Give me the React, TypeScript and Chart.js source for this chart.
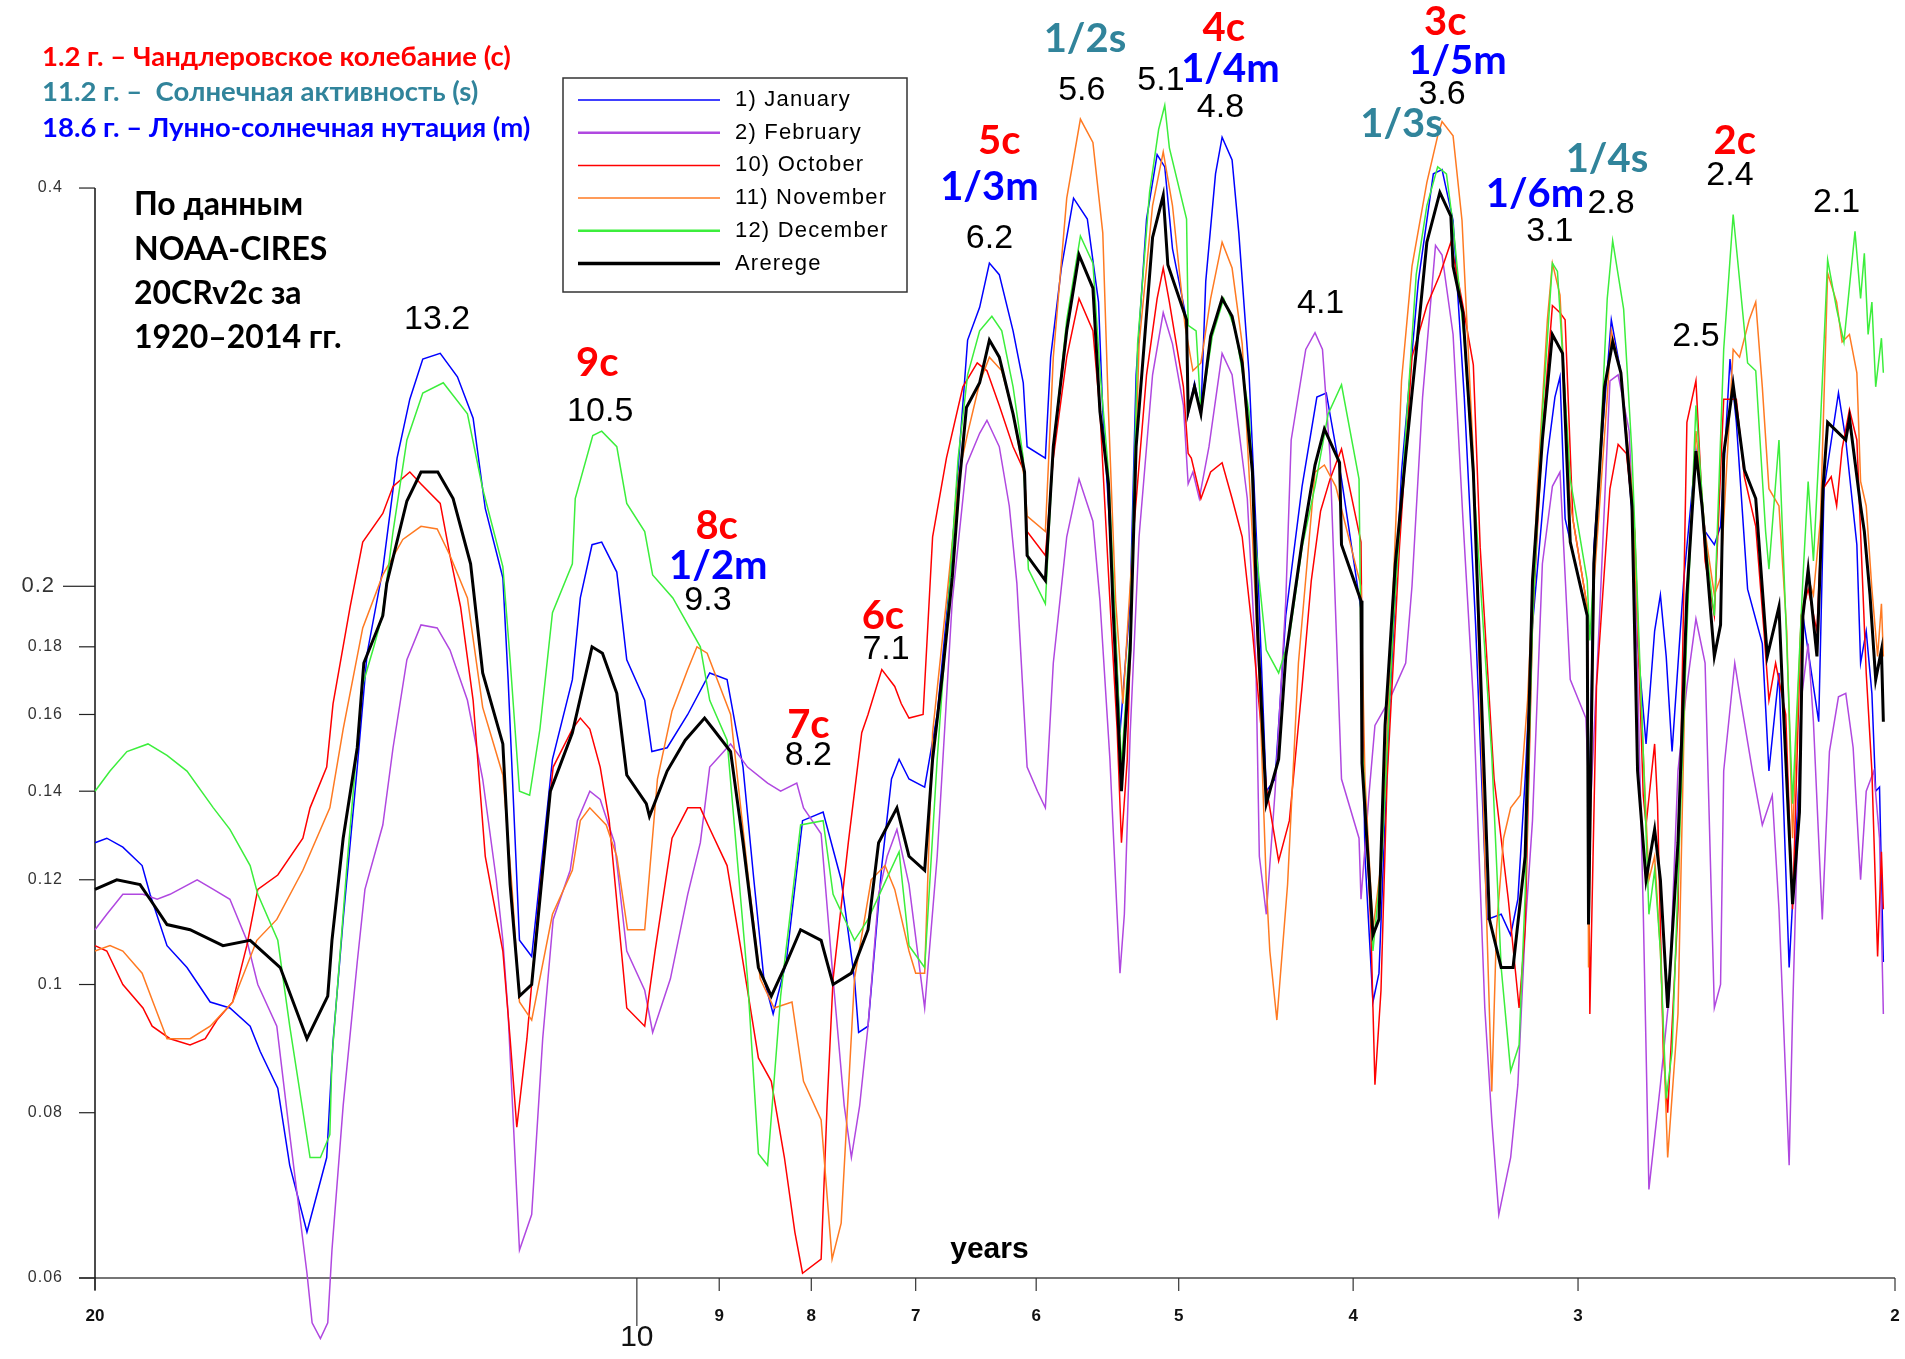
import { useEffect, useRef } from 'react';
import { Chart, registerables } from 'chart.js';

Chart.register(...registerables);

// ---- data: [period (years), amplitude] ----
const janSeries: [number, number][] = [[20.00,0.128],[19.70,0.129],[19.30,0.127],[18.83,0.123],[18.64,0.117],[18.24,0.107],[17.78,0.103],[17.26,0.097],[16.83,0.096],[16.40,0.093],[16.19,0.089],[15.83,0.0835],[15.59,0.073],[15.25,0.065],[14.87,0.074],[14.75,0.0905],[14.56,0.112],[14.30,0.146],[14.12,0.178],[13.84,0.206],[13.59,0.250],[13.37,0.277],[13.15,0.297],[12.86,0.300],[12.58,0.288],[12.33,0.268],[12.14,0.229],[11.87,0.203],[11.79,0.170],[11.62,0.108],[11.44,0.105],[11.14,0.148],[10.86,0.170],[10.75,0.196],[10.59,0.215],[10.46,0.216],[10.26,0.205],[10.13,0.176],[9.90,0.164],[9.81,0.150],[9.62,0.151],[9.37,0.160],[9.11,0.172],[8.91,0.170],[8.73,0.146],[8.61,0.120],[8.50,0.101],[8.40,0.095],[8.26,0.104],[8.09,0.133],[7.88,0.135],[7.70,0.120],[7.57,0.101],[7.53,0.092],[7.44,0.093],[7.31,0.123],[7.22,0.143],[7.15,0.148],[7.06,0.143],[6.92,0.141],[6.81,0.160],[6.70,0.202],[6.64,0.239],[6.55,0.307],[6.45,0.325],[6.37,0.351],[6.29,0.344],[6.18,0.312],[6.10,0.285],[6.07,0.255],[5.93,0.250],[5.89,0.298],[5.81,0.348],[5.72,0.393],[5.62,0.379],[5.54,0.328],[5.51,0.271],[5.44,0.203],[5.39,0.155],[5.32,0.195],[5.28,0.289],[5.21,0.379],[5.14,0.424],[5.09,0.415],[5.04,0.360],[4.95,0.318],[4.94,0.270],[4.90,0.285],[4.86,0.270],[4.83,0.340],[4.77,0.410],[4.73,0.437],[4.67,0.420],[4.63,0.370],[4.57,0.290],[4.52,0.208],[4.47,0.140],[4.42,0.143],[4.36,0.190],[4.27,0.238],[4.19,0.278],[4.14,0.280],[4.06,0.241],[3.96,0.192],[3.94,0.125],[3.90,0.097],[3.87,0.102],[3.82,0.159],[3.76,0.244],[3.68,0.340],[3.61,0.410],[3.57,0.413],[3.52,0.378],[3.47,0.278],[3.42,0.187],[3.37,0.112],[3.31,0.113],[3.27,0.109],[3.24,0.116],[3.21,0.143],[3.18,0.187],[3.12,0.251],[3.09,0.278],[3.07,0.288],[3.05,0.225],[2.965,0.190],[2.96,0.125],[2.94,0.214],[2.905,0.266],[2.875,0.318],[2.84,0.290],[2.80,0.227],[2.78,0.181],[2.75,0.152],[2.72,0.185],[2.70,0.197],[2.68,0.177],[2.66,0.150],[2.62,0.203],[2.58,0.253],[2.55,0.220],[2.52,0.215],[2.50,0.222],[2.47,0.297],[2.45,0.266],[2.415,0.199],[2.37,0.181],[2.35,0.145],[2.32,0.172],[2.29,0.103],[2.26,0.145],[2.25,0.190],[2.205,0.158],[2.19,0.237],[2.15,0.280],[2.13,0.258],[2.10,0.215],[2.09,0.175],[2.075,0.185],[2.06,0.166],[2.05,0.140],[2.04,0.141],[2.03,0.104]];

const febSeries: [number, number][] = [[20.00,0.110],[19.70,0.113],[19.30,0.117],[18.81,0.117],[18.47,0.116],[18.17,0.117],[17.55,0.120],[17.19,0.118],[16.83,0.116],[16.47,0.108],[16.24,0.100],[15.85,0.093],[15.59,0.077],[15.25,0.0605],[15.15,0.0555],[14.99,0.054],[14.85,0.0555],[14.77,0.063],[14.56,0.081],[14.30,0.104],[14.16,0.118],[13.84,0.132],[13.66,0.151],[13.42,0.176],[13.18,0.187],[12.91,0.186],[12.70,0.179],[12.42,0.164],[12.18,0.143],[11.97,0.120],[11.87,0.108],[11.79,0.095],[11.62,0.063],[11.44,0.067],[11.28,0.091],[11.13,0.112],[10.89,0.122],[10.79,0.133],[10.62,0.140],[10.48,0.138],[10.29,0.128],[10.13,0.106],[9.90,0.099],[9.80,0.092],[9.58,0.101],[9.37,0.117],[9.22,0.128],[9.11,0.146],[8.87,0.152],[8.68,0.146],[8.46,0.142],[8.32,0.140],[8.15,0.142],[8.08,0.136],[7.90,0.130],[7.78,0.101],[7.67,0.081],[7.60,0.074],[7.52,0.081],[7.44,0.093],[7.34,0.117],[7.26,0.125],[7.17,0.131],[7.06,0.119],[6.92,0.096],[6.81,0.125],[6.68,0.195],[6.56,0.247],[6.45,0.261],[6.39,0.267],[6.29,0.255],[6.21,0.230],[6.15,0.201],[6.07,0.146],[5.99,0.140],[5.93,0.136],[5.87,0.175],[5.77,0.218],[5.68,0.241],[5.58,0.224],[5.53,0.195],[5.46,0.148],[5.41,0.113],[5.39,0.102],[5.36,0.113],[5.32,0.155],[5.26,0.218],[5.17,0.289],[5.10,0.322],[5.04,0.305],[4.97,0.274],[4.94,0.239],[4.91,0.244],[4.87,0.233],[4.81,0.255],[4.73,0.300],[4.67,0.289],[4.58,0.233],[4.53,0.175],[4.51,0.125],[4.47,0.113],[4.42,0.140],[4.36,0.195],[4.33,0.258],[4.25,0.302],[4.20,0.311],[4.16,0.302],[4.12,0.251],[4.06,0.143],[3.97,0.129],[3.96,0.116],[3.92,0.139],[3.89,0.157],[3.82,0.164],[3.74,0.175],[3.71,0.200],[3.66,0.278],[3.60,0.362],[3.57,0.356],[3.52,0.310],[3.476,0.225],[3.43,0.164],[3.38,0.096],[3.35,0.079],[3.32,0.067],[3.27,0.074],[3.24,0.084],[3.21,0.110],[3.18,0.133],[3.14,0.208],[3.10,0.238],[3.07,0.244],[3.03,0.170],[2.97,0.159],[2.955,0.133],[2.92,0.187],[2.88,0.286],[2.85,0.289],[2.81,0.262],[2.79,0.209],[2.76,0.114],[2.74,0.070],[2.70,0.084],[2.67,0.098],[2.64,0.145],[2.61,0.168],[2.58,0.189],[2.55,0.175],[2.52,0.096],[2.50,0.100],[2.49,0.145],[2.455,0.175],[2.44,0.166],[2.40,0.145],[2.37,0.132],[2.34,0.139],[2.32,0.114],[2.29,0.073],[2.28,0.095],[2.255,0.164],[2.235,0.181],[2.22,0.158],[2.195,0.112],[2.175,0.150],[2.15,0.165],[2.13,0.166],[2.11,0.151],[2.09,0.120],[2.075,0.140],[2.055,0.145],[2.04,0.129],[2.03,0.095]];

const octSeries: [number, number][] = [[20.00,0.107],[19.70,0.106],[19.30,0.100],[18.81,0.096],[18.59,0.093],[18.17,0.091],[17.71,0.090],[17.37,0.091],[17.11,0.094],[16.77,0.097],[16.47,0.107],[16.24,0.118],[15.83,0.121],[15.33,0.129],[15.19,0.136],[14.87,0.146],[14.75,0.163],[14.43,0.193],[14.20,0.216],[13.84,0.227],[13.66,0.238],[13.37,0.244],[13.18,0.239],[12.86,0.231],[12.70,0.211],[12.53,0.193],[12.33,0.164],[12.14,0.125],[11.87,0.106],[11.76,0.091],[11.66,0.078],[11.51,0.091],[11.32,0.118],[11.13,0.146],[10.86,0.156],[10.75,0.159],[10.62,0.156],[10.48,0.146],[10.36,0.133],[10.13,0.096],[9.90,0.093],[9.77,0.106],[9.56,0.129],[9.37,0.136],[9.22,0.136],[9.13,0.132],[8.91,0.123],[8.75,0.106],[8.56,0.088],[8.42,0.0845],[8.28,0.074],[8.17,0.065],[8.09,0.0605],[7.90,0.062],[7.84,0.081],[7.78,0.101],[7.63,0.128],[7.50,0.155],[7.44,0.160],[7.31,0.173],[7.19,0.168],[7.13,0.163],[7.06,0.159],[6.934,0.160],[6.85,0.218],[6.73,0.250],[6.59,0.283],[6.47,0.295],[6.39,0.291],[6.29,0.274],[6.18,0.255],[6.09,0.244],[6.07,0.220],[5.93,0.211],[5.87,0.250],[5.77,0.298],[5.68,0.330],[5.58,0.312],[5.53,0.271],[5.46,0.195],[5.41,0.156],[5.38,0.128],[5.34,0.148],[5.30,0.218],[5.21,0.289],[5.14,0.330],[5.10,0.348],[5.06,0.328],[4.97,0.283],[4.94,0.252],[4.92,0.250],[4.86,0.233],[4.80,0.244],[4.73,0.248],[4.67,0.233],[4.61,0.218],[4.55,0.185],[4.51,0.162],[4.47,0.141],[4.40,0.124],[4.34,0.133],[4.27,0.168],[4.22,0.202],[4.17,0.228],[4.12,0.241],[4.06,0.254],[3.96,0.216],[3.95,0.149],[3.91,0.110],[3.89,0.084],[3.86,0.099],[3.83,0.143],[3.77,0.214],[3.71,0.298],[3.64,0.326],[3.58,0.344],[3.53,0.364],[3.476,0.326],[3.43,0.294],[3.40,0.214],[3.34,0.143],[3.28,0.116],[3.235,0.096],[3.21,0.110],[3.18,0.187],[3.14,0.261],[3.10,0.326],[3.07,0.322],[3.05,0.318],[3.02,0.225],[2.965,0.193],[2.955,0.095],[2.93,0.168],[2.88,0.237],[2.85,0.256],[2.82,0.252],[2.79,0.220],[2.76,0.139],[2.75,0.132],[2.72,0.152],[2.71,0.137],[2.69,0.089],[2.675,0.080],[2.64,0.114],[2.61,0.266],[2.58,0.286],[2.55,0.209],[2.52,0.190],[2.49,0.277],[2.45,0.277],[2.425,0.242],[2.39,0.222],[2.365,0.185],[2.35,0.164],[2.33,0.175],[2.30,0.160],[2.28,0.114],[2.255,0.190],[2.235,0.199],[2.21,0.185],[2.193,0.237],[2.17,0.242],[2.155,0.230],[2.14,0.254],[2.12,0.272],[2.10,0.258],[2.075,0.172],[2.06,0.145],[2.045,0.105],[2.035,0.126],[2.03,0.114]];

const novSeries: [number, number][] = [[20.00,0.106],[19.62,0.107],[19.30,0.106],[18.83,0.102],[18.57,0.097],[18.24,0.091],[17.71,0.091],[17.26,0.093],[16.77,0.097],[16.26,0.108],[15.85,0.112],[15.33,0.122],[14.81,0.136],[14.56,0.156],[14.20,0.186],[13.84,0.204],[13.49,0.217],[13.18,0.222],[12.91,0.221],[12.70,0.211],[12.42,0.196],[12.18,0.162],[11.87,0.144],[11.73,0.118],[11.62,0.097],[11.44,0.094],[11.14,0.113],[10.86,0.122],[10.75,0.133],[10.62,0.136],[10.40,0.132],[10.26,0.125],[10.12,0.110],[9.90,0.110],[9.74,0.143],[9.56,0.161],[9.37,0.173],[9.26,0.180],[9.14,0.178],[8.87,0.160],[8.68,0.122],[8.54,0.101],[8.39,0.096],[8.20,0.097],[8.08,0.0845],[7.90,0.079],[7.79,0.062],[7.70,0.066],[7.57,0.101],[7.41,0.120],[7.28,0.123],[7.19,0.118],[7.06,0.106],[7.00,0.102],[6.92,0.102],[6.85,0.155],[6.73,0.195],[6.62,0.244],[6.55,0.261],[6.45,0.285],[6.37,0.298],[6.27,0.291],[6.18,0.270],[6.09,0.241],[6.07,0.226],[5.93,0.220],[5.87,0.298],[5.77,0.393],[5.67,0.451],[5.58,0.433],[5.51,0.370],[5.47,0.271],[5.42,0.195],[5.37,0.163],[5.30,0.218],[5.26,0.305],[5.17,0.388],[5.10,0.426],[5.04,0.388],[4.96,0.315],[4.91,0.291],[4.86,0.295],[4.80,0.330],[4.73,0.364],[4.67,0.348],[4.61,0.305],[4.55,0.218],[4.51,0.169],[4.47,0.119],[4.45,0.106],[4.41,0.094],[4.35,0.119],[4.29,0.175],[4.20,0.244],[4.15,0.247],[4.09,0.238],[3.96,0.200],[3.94,0.143],[3.90,0.110],[3.855,0.125],[3.80,0.200],[3.76,0.286],[3.71,0.349],[3.64,0.404],[3.59,0.438],[3.57,0.449],[3.52,0.438],[3.48,0.378],[3.43,0.251],[3.40,0.164],[3.35,0.083],[3.33,0.110],[3.30,0.129],[3.27,0.136],[3.23,0.139],[3.20,0.164],[3.16,0.238],[3.12,0.318],[3.10,0.351],[3.07,0.332],[3.03,0.231],[2.965,0.193],[2.96,0.103],[2.94,0.200],[2.89,0.278],[2.875,0.312],[2.84,0.290],[2.80,0.237],[2.76,0.150],[2.74,0.120],[2.72,0.125],[2.70,0.106],[2.675,0.074],[2.64,0.095],[2.61,0.197],[2.58,0.262],[2.55,0.220],[2.52,0.197],[2.50,0.203],[2.46,0.302],[2.44,0.298],[2.41,0.318],[2.39,0.328],[2.37,0.283],[2.35,0.237],[2.32,0.230],[2.297,0.185],[2.28,0.129],[2.255,0.190],[2.235,0.203],[2.22,0.197],[2.20,0.225],[2.18,0.345],[2.155,0.328],[2.14,0.306],[2.12,0.310],[2.10,0.290],[2.09,0.240],[2.075,0.230],[2.06,0.199],[2.045,0.177],[2.035,0.194],[2.03,0.177]];

const decSeries: [number, number][] = [[20.00,0.140],[19.62,0.145],[19.20,0.150],[18.69,0.152],[18.24,0.149],[17.78,0.145],[17.19,0.136],[16.83,0.131],[16.40,0.123],[16.24,0.117],[15.83,0.108],[15.59,0.093],[15.19,0.074],[14.99,0.074],[14.81,0.077],[14.77,0.088],[14.49,0.123],[14.21,0.168],[14.00,0.180],[13.85,0.190],[13.66,0.220],[13.42,0.258],[13.15,0.280],[12.81,0.285],[12.42,0.270],[12.18,0.237],[11.87,0.207],[11.76,0.176],[11.62,0.140],[11.47,0.139],[11.32,0.156],[11.14,0.191],[10.86,0.208],[10.82,0.233],[10.58,0.260],[10.46,0.262],[10.26,0.255],[10.13,0.231],[9.90,0.220],[9.80,0.204],[9.55,0.196],[9.22,0.180],[9.11,0.164],[8.91,0.153],[8.68,0.101],[8.56,0.0745],[8.46,0.073],[8.32,0.098],[8.11,0.132],[7.88,0.133],[7.78,0.117],[7.57,0.108],[7.44,0.112],[7.29,0.119],[7.15,0.126],[7.06,0.107],[6.92,0.103],[6.81,0.148],[6.70,0.202],[6.63,0.250],[6.55,0.289],[6.45,0.312],[6.35,0.320],[6.27,0.312],[6.18,0.283],[6.10,0.250],[6.06,0.206],[5.93,0.194],[5.87,0.255],[5.77,0.318],[5.67,0.368],[5.58,0.351],[5.53,0.291],[5.47,0.244],[5.42,0.185],[5.38,0.146],[5.32,0.185],[5.27,0.305],[5.19,0.397],[5.13,0.443],[5.09,0.462],[5.06,0.429],[4.95,0.379],[4.94,0.315],[4.89,0.312],[4.86,0.271],[4.79,0.309],[4.72,0.330],[4.65,0.312],[4.57,0.271],[4.53,0.214],[4.47,0.179],[4.40,0.172],[4.34,0.183],[4.27,0.214],[4.20,0.238],[4.13,0.270],[4.06,0.284],[3.97,0.241],[3.955,0.153],[3.90,0.106],[3.855,0.125],[3.80,0.187],[3.74,0.261],[3.69,0.344],[3.64,0.388],[3.59,0.415],[3.55,0.410],[3.52,0.375],[3.47,0.307],[3.40,0.202],[3.35,0.149],[3.31,0.103],[3.27,0.086],[3.235,0.090],[3.21,0.117],[3.18,0.187],[3.14,0.270],[3.10,0.351],[3.08,0.346],[3.03,0.241],[2.965,0.202],[2.955,0.182],[2.92,0.244],[2.89,0.330],[2.87,0.365],[2.83,0.324],[2.80,0.252],[2.76,0.150],[2.74,0.113],[2.72,0.122],[2.70,0.106],[2.68,0.082],[2.66,0.089],[2.61,0.185],[2.58,0.274],[2.55,0.217],[2.52,0.190],[2.49,0.302],[2.46,0.382],[2.44,0.341],[2.415,0.295],[2.39,0.291],[2.36,0.220],[2.35,0.206],[2.32,0.258],[2.297,0.181],[2.28,0.137],[2.25,0.203],[2.235,0.240],[2.22,0.209],[2.20,0.266],[2.18,0.353],[2.155,0.324],[2.135,0.306],[2.105,0.371],[2.09,0.330],[2.08,0.357],[2.07,0.310],[2.06,0.328],[2.05,0.283],[2.035,0.308],[2.03,0.290]];

const avgSeries: [number, number][] = [[20.00,0.118],[19.45,0.120],[18.88,0.119],[18.64,0.116],[18.24,0.111],[17.71,0.110],[16.98,0.107],[16.40,0.108],[15.78,0.103],[15.25,0.091],[14.85,0.098],[14.77,0.108],[14.56,0.129],[14.30,0.151],[14.18,0.175],[13.84,0.190],[13.77,0.201],[13.42,0.232],[13.18,0.244],[12.90,0.244],[12.65,0.233],[12.37,0.208],[12.18,0.172],[11.87,0.152],[11.76,0.119],[11.62,0.098],[11.44,0.100],[11.17,0.140],[10.86,0.155],[10.59,0.180],[10.45,0.178],[10.26,0.166],[10.13,0.144],[9.88,0.137],[9.84,0.134],[9.62,0.145],[9.40,0.153],[9.17,0.159],[9.07,0.156],[8.87,0.150],[8.73,0.128],[8.56,0.103],[8.42,0.098],[8.28,0.103],[8.11,0.110],[7.90,0.108],[7.78,0.100],[7.60,0.102],[7.44,0.110],[7.34,0.128],[7.17,0.136],[7.06,0.125],[6.92,0.122],[6.85,0.148],[6.76,0.173],[6.68,0.203],[6.62,0.239],[6.56,0.273],[6.45,0.285],[6.37,0.307],[6.29,0.298],[6.18,0.270],[6.09,0.244],[6.07,0.211],[5.93,0.202],[5.87,0.255],[5.77,0.312],[5.68,0.356],[5.58,0.336],[5.53,0.271],[5.47,0.239],[5.44,0.195],[5.38,0.140],[5.32,0.179],[5.28,0.255],[5.17,0.367],[5.10,0.395],[5.07,0.350],[4.95,0.318],[4.94,0.271],[4.90,0.283],[4.86,0.270],[4.80,0.309],[4.73,0.330],[4.67,0.320],[4.61,0.295],[4.55,0.244],[4.52,0.185],[4.47,0.137],[4.40,0.148],[4.36,0.177],[4.27,0.216],[4.20,0.247],[4.15,0.263],[4.07,0.248],[4.06,0.215],[3.96,0.195],[3.955,0.147],[3.90,0.109],[3.87,0.112],[3.84,0.157],[3.79,0.208],[3.74,0.251],[3.69,0.301],[3.64,0.364],[3.58,0.397],[3.53,0.381],[3.52,0.349],[3.476,0.322],[3.43,0.244],[3.40,0.175],[3.36,0.112],[3.31,0.103],[3.26,0.103],[3.21,0.125],[3.18,0.202],[3.14,0.258],[3.10,0.310],[3.06,0.300],[3.03,0.216],[2.965,0.190],[2.96,0.111],[2.94,0.208],[2.90,0.283],[2.87,0.306],[2.84,0.290],[2.80,0.230],[2.78,0.145],[2.75,0.120],[2.72,0.131],[2.70,0.120],[2.675,0.096],[2.64,0.128],[2.61,0.197],[2.58,0.253],[2.56,0.230],[2.52,0.177],[2.50,0.187],[2.49,0.252],[2.46,0.284],[2.425,0.245],[2.39,0.233],[2.355,0.177],[2.32,0.193],[2.31,0.168],[2.28,0.115],[2.26,0.135],[2.25,0.190],[2.235,0.206],[2.21,0.177],[2.193,0.237],[2.18,0.266],[2.155,0.262],[2.13,0.258],[2.12,0.268],[2.09,0.230],[2.08,0.220],[2.065,0.197],[2.05,0.170],[2.035,0.179],[2.03,0.158]];

const seriesLabels = ['1) January', '2) February', '10) October', '11) November', '12) December', 'Arerege'];
const seriesColors = ['#0000FF', '#B048E0', '#FF0000', '#FF7A22', '#3CEE3C', '#000000'];

const xTicks = [20, 10, 9, 8, 7, 6, 5, 4, 3, 2];
const xTickLabels = ['20', '10', '9', '8', '7', '6', '5', '4', '3', '2'];
const yTicks = [0.4, 0.2, 0.18, 0.16, 0.14, 0.12, 0.1, 0.08, 0.06];
const yTickLabels = ['0.4', '0.2', '0.18', '0.16', '0.14', '0.12', '0.1', '0.08', '0.06'];

// peak annotations: text, period, value, kind
const peakTexts = ['13.2','9c','10.5','8c','1/2m','9.3','7c','8.2','6c','7.1','5c','1/3m','6.2','1/2s','5.6','5.1','4c','1/4m','4.8','4.1','3c','1/5m','3.6','1/3s','1/6m','3.1','1/4s','2.8','2c','2.4','2.5','2.1'];
const peakPeriods = [12.91,10.52,10.48,9.03,9.01,9.13,8.03,8.03,7.30,7.27,6.29,6.37,6.37,5.637,5.66,5.115,4.72,4.68,4.74,4.17,3.555,3.50,3.57,3.76,3.17,3.11,2.891,2.876,2.455,2.47,2.58,2.155];
const peakValues = [0.318,0.295,0.271,0.222,0.207,0.195,0.157,0.149,0.190,0.179,0.434,0.401,0.366,0.518,0.474,0.482,0.528,0.492,0.460,0.327,0.534,0.499,0.471,0.447,0.396,0.371,0.421,0.389,0.434,0.409,0.309,0.390];
const peakKinds = ['n','c','n','c','m','n','c','n','c','n','c','m','n','s','n','n','c','m','n','n','c','m','n','s','m','n','s','n','c','n','n','n'];

const infoLines = ['1.2 г. – Чандлеровское колебание (с)', '11.2 г. –  Солнечная активность (s)', '18.6 г. – Лунно-солнечная нутация (m)'];
const infoColors = ['#FF0000', '#31849B', '#0000FF'];
const sourceLines = ['По данным', 'NOAA-CIRES', '20CRv2c за', '1920–2014 гг.'];
const axisTitle = 'years';

const kindStyle: Record<string, { font: string; color: string }> = {
  n: { font: '34px "Liberation Sans", Arial, sans-serif', color: '#000000' },
  c: { font: 'bold 40px Lato, sans-serif', color: '#FF0000' },
  m: { font: 'bold 40px Lato, sans-serif', color: '#0000FF' },
  s: { font: 'bold 40px Lato, sans-serif', color: '#31849B' },
};

const decorPlugin = {
  id: 'decor',
  beforeDatasetsDraw(chart: any) {
    const { ctx, scales } = chart;
    const xs = scales.x;
    const ys = scales.y;
    const yBase = ys.getPixelForValue(0.06);
    const xLeft = xs.getPixelForValue(20);
    const xRight = xs.getPixelForValue(2);
    const yTop = ys.getPixelForValue(0.4);
    ctx.save();
    // x axis line
    ctx.strokeStyle = '#767676';
    ctx.lineWidth = 2;
    ctx.beginPath();
    ctx.moveTo(xLeft - 16, yBase);
    ctx.lineTo(xRight, yBase);
    ctx.stroke();
    // y axis line
    ctx.strokeStyle = '#111111';
    ctx.lineWidth = 1.5;
    ctx.beginPath();
    ctx.moveTo(xLeft, yTop);
    ctx.lineTo(xLeft, yBase + 12);
    ctx.stroke();
    // y ticks + labels
    ctx.lineWidth = 1.2;
    ctx.strokeStyle = '#222222';
    ctx.textBaseline = 'middle';
    ctx.textAlign = 'right';
    yTicks.forEach((v, i) => {
      const py = ys.getPixelForValue(v);
      const major = yTickLabels[i] === '0.2';
      ctx.beginPath();
      ctx.moveTo(xLeft - (major ? 32 : 16), py);
      ctx.lineTo(xLeft, py);
      ctx.stroke();
      ctx.fillStyle = '#333333';
      ctx.font = major ? '22px "Liberation Sans", Arial, sans-serif' : '16px "Liberation Sans", Arial, sans-serif';
      (ctx as any).letterSpacing = '1px';
      ctx.fillText(yTickLabels[i], major ? xLeft - 40 : xLeft - 32, py);
    });
    // x ticks + labels
    ctx.textAlign = 'center';
    xTicks.forEach((p, i) => {
      const px = xs.getPixelForValue(p);
      const major = xTickLabels[i] === '10';
      ctx.strokeStyle = '#333333';
      ctx.beginPath();
      ctx.moveTo(px, yBase);
      ctx.lineTo(px, yBase + (major ? 48 : 13));
      ctx.stroke();
      ctx.fillStyle = '#111111';
      (ctx as any).letterSpacing = '0px';
      if (major) {
        ctx.font = '30px "Liberation Sans", Arial, sans-serif';
        ctx.fillText(xTickLabels[i], px, yBase + 60);
      } else {
        ctx.font = 'bold 17px "Liberation Sans", Arial, sans-serif';
        ctx.fillText(xTickLabels[i], px, yBase + 38);
      }
    });
    ctx.restore();
  },
  afterDatasetsDraw(chart: any) {
    const { ctx, scales } = chart;
    const xs = scales.x;
    const ys = scales.y;
    ctx.save();
    ctx.textBaseline = 'middle';
    // info lines
    ctx.textAlign = 'left';
    ctx.font = 'bold 27.5px Lato, sans-serif';
    infoLines.forEach((t, i) => {
      ctx.fillStyle = infoColors[i];
      ctx.fillText(t, 42, 57 + i * 35.5);
    });
    // source block
    ctx.fillStyle = '#000000';
    ctx.font = 'bold 32px Lato, sans-serif';
    sourceLines.forEach((t, i) => {
      ctx.fillText(t, 134, 205 + i * 44.3);
    });
    // legend
    const lx = 563, ly = 78, lw = 344, lh = 214;
    ctx.fillStyle = '#ffffff';
    ctx.fillRect(lx, ly, lw, lh);
    ctx.strokeStyle = '#333333';
    ctx.lineWidth = 1.5;
    ctx.strokeRect(lx, ly, lw, lh);
    const dsList = chart.data.datasets;
    ctx.font = '22px "Liberation Sans", Arial, sans-serif';
    (ctx as any).letterSpacing = '1.2px';
    dsList.forEach((ds: any, i: number) => {
      const ry = 100 + i * 32.7;
      ctx.strokeStyle = ds.borderColor;
      ctx.lineWidth = ds.legendWidth;
      ctx.beginPath();
      ctx.moveTo(578, ry);
      ctx.lineTo(720, ry);
      ctx.stroke();
      ctx.fillStyle = '#000000';
      ctx.fillText(ds.label, 735, ry);
    });
    (ctx as any).letterSpacing = '0px';
    // peak labels
    ctx.textAlign = 'center';
    peakTexts.forEach((t, i) => {
      const st = kindStyle[peakKinds[i]];
      ctx.font = st.font;
      ctx.fillStyle = st.color;
      ctx.fillText(t, xs.getPixelForValue(peakPeriods[i]), ys.getPixelForValue(peakValues[i]));
    });
    // axis title
    ctx.fillStyle = '#000000';
    ctx.font = 'bold 30px "Liberation Sans", Arial, sans-serif';
    ctx.fillText(axisTitle, xs.getPixelForValue(6.37), ys.getPixelForValue(0.06) - 28);
    ctx.restore();
  },
};

export default function App() {
  const ref = useRef<HTMLCanvasElement>(null);
  useEffect(() => {
    const all = [janSeries, febSeries, octSeries, novSeries, decSeries, avgSeries];
    const chart = new Chart(ref.current as HTMLCanvasElement, {
      type: 'line',
      data: {
        datasets: all.map((s, i) => ({
          label: seriesLabels[i],
          data: s.map(([p, v]) => ({ x: p, y: v })),
          borderColor: seriesColors[i],
          backgroundColor: seriesColors[i],
          borderWidth: i === 5 ? 3 : 1.5,
          legendWidth: i === 5 ? 3.5 : (i === 1 || i === 4 ? 2.5 : 1.5),
          pointRadius: 0,
          tension: 0,
          fill: false,
          clip: false,
          order: 5 - i,
        })) as any,
      },
      options: {
        animation: false,
        responsive: false,
        devicePixelRatio: 1,
        layout: { padding: { left: 95, right: 10, top: 37.3, bottom: 81 } },
        plugins: { legend: { display: false }, tooltip: { enabled: false } },
        scales: {
          x: { type: 'logarithmic', min: 2, max: 20, reverse: true, display: false },
          y: { type: 'logarithmic', min: 0.06, max: 0.52, display: false },
        },
      },
      plugins: [decorPlugin],
    });
    return () => chart.destroy();
  }, []);
  return (
    <div style={{ position: 'absolute', left: 0, top: 0, width: 1905, height: 1359, background: '#ffffff' }}>
      <canvas ref={ref} width={1905} height={1359} style={{ width: 1905, height: 1359, display: 'block' }} />
    </div>
  );
}
